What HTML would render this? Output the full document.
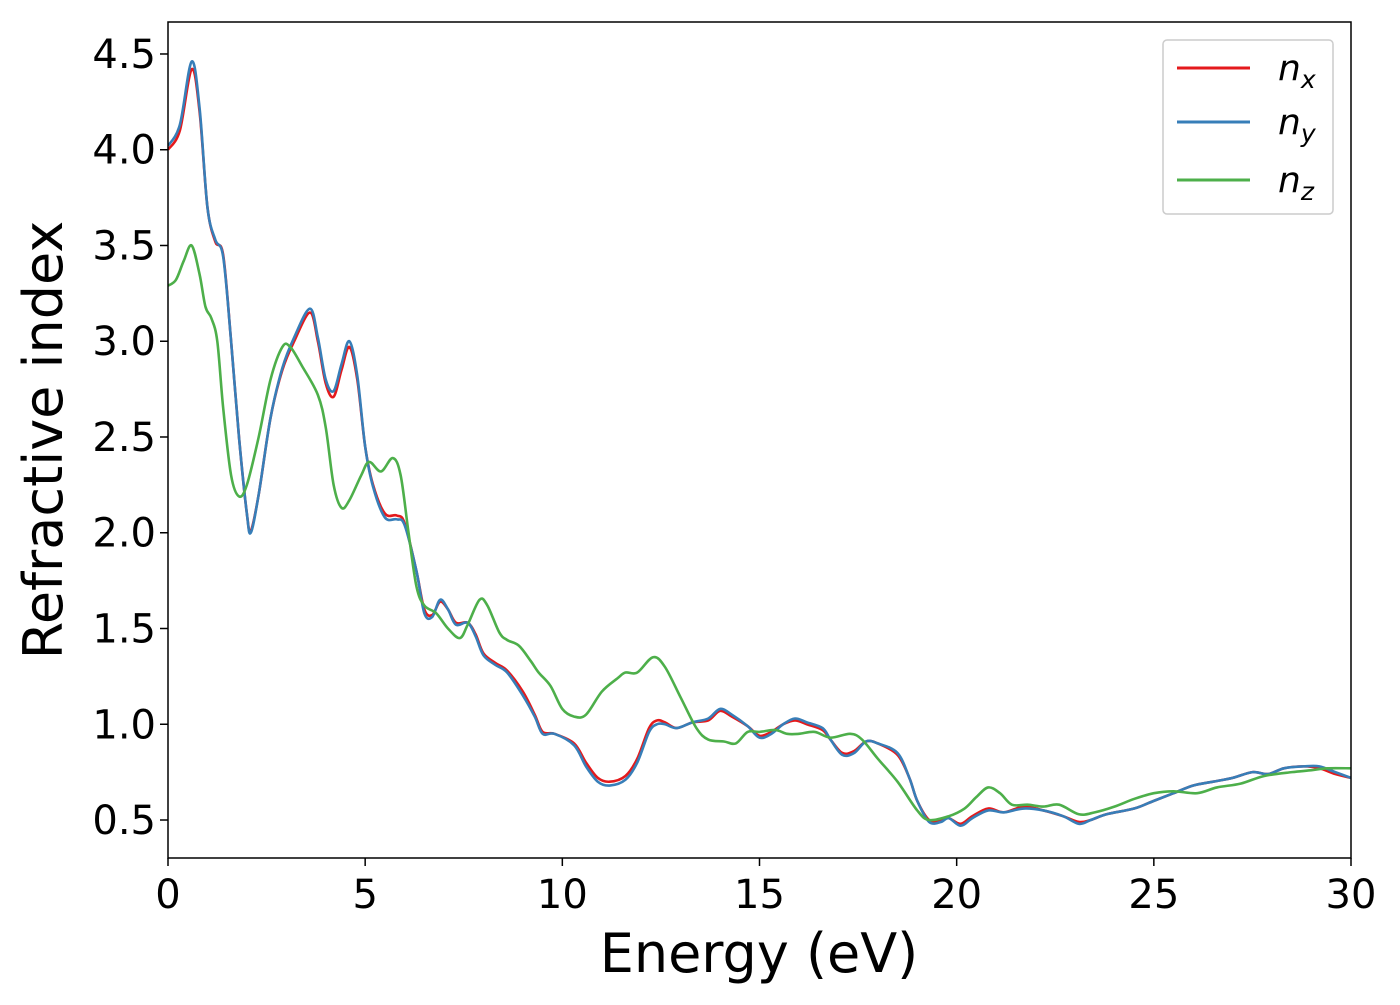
<!DOCTYPE html>
<html><head><meta charset="utf-8"><style>
body{margin:0;background:#fff}
svg{font-family:"DejaVu Sans","Liberation Sans",sans-serif}
</style></head><body>
<svg id="chart" width="1400" height="1000" viewBox="0 0 1400 1000" xmlns="http://www.w3.org/2000/svg">
<rect x="0" y="0" width="1400" height="1000" fill="#fff"/>
<g id="series"></g>
<rect x="168" y="22" width="1183" height="836" fill="none" stroke="#000" stroke-width="1.5"/>
<g id="xticks"></g>
<g id="yticks"></g>
<text x="759" y="972" font-size="54" text-anchor="middle">Energy (eV)</text>
<text transform="translate(62,440) rotate(-90)" font-size="54" text-anchor="middle">Refractive index</text>
<g>
<rect x="1163" y="40" width="170" height="174" rx="4" fill="#fff" fill-opacity="0.8" stroke="#ccc" stroke-width="1.5"/>
<line x1="1177" y1="68" x2="1250" y2="68" stroke="#e41a1c" stroke-width="3"/>
<line x1="1177" y1="122" x2="1250" y2="122" stroke="#377eb8" stroke-width="3"/>
<line x1="1177" y1="180" x2="1250" y2="180" stroke="#4daf4a" stroke-width="3"/>
<text x="1278" y="80" font-size="36" font-style="italic">n<tspan font-size="25" dy="8">x</tspan></text>
<text x="1278" y="134" font-size="36" font-style="italic">n<tspan font-size="25" dy="8">y</tspan></text>
<text x="1278" y="192" font-size="36" font-style="italic">n<tspan font-size="25" dy="8">z</tspan></text>
</g>
</svg>
<script>
const xTicks=[0,5,10,15,20,25,30];
const yTicks=[0.5,1.0,1.5,2.0,2.5,3.0,3.5,4.0,4.5];
const nxE=[0,0.3,0.6,0.8,1.0,1.2,1.4,1.6,1.8,2.0,2.1,2.3,2.6,2.9,3.2,3.6,3.8,4.0,4.2,4.4,4.6,4.8,5.0,5.2,5.5,5.8,6.0,6.3,6.5,6.7,6.9,7.1,7.3,7.6,7.8,8.0,8.3,8.6,9.0,9.3,9.5,9.8,10.3,10.6,10.9,11.2,11.6,11.9,12.2,12.4,12.6,12.9,13.3,13.7,14.0,14.3,14.7,15.0,15.3,15.6,15.9,16.2,16.6,16.8,17.1,17.4,17.7,18.0,18.5,18.8,19.0,19.3,19.6,19.8,20.1,20.4,20.8,21.2,21.7,22.2,22.7,23.1,23.4,23.8,24.5,25.0,25.5,26.0,26.5,27.0,27.5,27.9,28.3,28.8,29.2,29.6,30];
const nxV=[4.0,4.1,4.42,4.2,3.7,3.52,3.45,3.0,2.5,2.1,2.01,2.2,2.6,2.85,3.0,3.15,3.0,2.78,2.71,2.85,2.97,2.8,2.45,2.25,2.1,2.09,2.05,1.8,1.6,1.57,1.64,1.6,1.53,1.53,1.47,1.37,1.32,1.28,1.17,1.05,0.96,0.95,0.9,0.8,0.72,0.7,0.73,0.82,0.98,1.02,1.01,0.98,1.01,1.02,1.07,1.04,0.99,0.94,0.96,1.0,1.02,1.0,0.97,0.92,0.85,0.86,0.91,0.9,0.84,0.72,0.6,0.5,0.5,0.51,0.48,0.52,0.56,0.54,0.57,0.55,0.52,0.49,0.5,0.53,0.56,0.6,0.64,0.68,0.7,0.72,0.75,0.74,0.77,0.78,0.77,0.74,0.72];
const nyE=nxE;
const nyV=[4.02,4.13,4.46,4.22,3.7,3.53,3.44,3.0,2.5,2.1,2.0,2.2,2.6,2.86,3.02,3.17,3.02,2.8,2.74,2.88,3.0,2.82,2.45,2.24,2.08,2.07,2.04,1.8,1.58,1.56,1.65,1.6,1.52,1.53,1.46,1.36,1.31,1.27,1.15,1.04,0.95,0.95,0.89,0.78,0.7,0.68,0.71,0.8,0.96,1.0,1.0,0.98,1.01,1.03,1.08,1.05,0.99,0.93,0.95,1.0,1.03,1.01,0.98,0.92,0.84,0.85,0.91,0.9,0.85,0.72,0.6,0.49,0.49,0.51,0.47,0.51,0.55,0.54,0.56,0.55,0.52,0.48,0.5,0.53,0.56,0.6,0.64,0.68,0.7,0.72,0.75,0.74,0.77,0.78,0.78,0.75,0.72];
const nzE=[0,0.2,0.4,0.6,0.8,0.95,1.1,1.25,1.4,1.6,1.8,2.0,2.3,2.6,2.9,3.1,3.4,3.8,4.0,4.2,4.4,4.6,4.9,5.1,5.4,5.7,5.9,6.1,6.3,6.5,6.8,7.1,7.4,7.6,7.9,8.1,8.4,8.6,8.9,9.2,9.4,9.7,10.0,10.3,10.6,11.0,11.4,11.6,11.9,12.3,12.6,13.0,13.4,13.7,14.1,14.4,14.7,15.0,15.4,15.7,16.0,16.4,16.8,17.3,17.6,18.0,18.5,19.0,19.3,19.8,20.2,20.5,20.8,21.1,21.4,21.8,22.2,22.6,23.1,23.5,24.0,24.5,25.0,25.5,26.1,26.6,27.2,27.8,28.5,29.0,29.4,30];
const nzV=[3.29,3.32,3.42,3.5,3.35,3.18,3.12,3.0,2.65,2.3,2.19,2.25,2.5,2.8,2.97,2.97,2.87,2.72,2.55,2.25,2.13,2.17,2.3,2.37,2.32,2.39,2.3,2.0,1.72,1.62,1.58,1.5,1.45,1.52,1.65,1.62,1.48,1.44,1.41,1.33,1.27,1.2,1.08,1.04,1.05,1.17,1.24,1.27,1.27,1.35,1.3,1.14,0.98,0.92,0.91,0.9,0.96,0.96,0.97,0.95,0.95,0.96,0.93,0.95,0.92,0.82,0.7,0.55,0.5,0.52,0.56,0.62,0.67,0.64,0.58,0.58,0.57,0.58,0.53,0.54,0.57,0.61,0.64,0.65,0.64,0.67,0.69,0.73,0.75,0.76,0.77,0.77];
const X0=168,X1=1351,Y0=22,Y1=858,xmin=0,xmax=30,ymin=0.3016,ymax=4.667;
const sx=v=>X0+(v-xmin)/(xmax-xmin)*(X1-X0);
const sy=v=>Y1-(v-ymin)/(ymax-ymin)*(Y1-Y0);
const NS="http://www.w3.org/2000/svg";
function mk(t,a){const e=document.createElementNS(NS,t);for(const k in a)e.setAttribute(k,a[k]);return e;}
const xg=document.getElementById('xticks'),yg=document.getElementById('yticks');
xTicks.forEach(t=>{const x=sx(t);
 const l=mk('line',{x1:x,y1:Y1,x2:x,y2:Y1+8,stroke:'#000','stroke-width':1.5});
 
 
 xg.appendChild(l);
 const tx=mk('text',{x:x,y:Y1+50,'font-size':40,'text-anchor':'middle'});tx.textContent=t;
 
 
 xg.appendChild(tx);});
yTicks.forEach(t=>{const y=sy(t);
 const l=mk('line',{x1:X0-8,y1:y,x2:X0,y2:y,stroke:'#000','stroke-width':1.5});
 
 
 yg.appendChild(l);
 const tx=mk('text',{x:X0-12,y:y+14,'font-size':40,'text-anchor':'end'});tx.textContent=t.toFixed(1);
 
 
 yg.appendChild(tx);});
function pathFor(E,V){const p=E.map((e,i)=>[sx(e),sy(V[i])]);let d='M'+p[0][0]+','+p[0][1];
 for(let i=0;i<p.length-1;i++){const a=p[Math.max(0,i-1)],b=p[i],c=p[i+1],n=p[Math.min(p.length-1,i+2)];
  const c1=[b[0]+(c[0]-a[0])/6,b[1]+(c[1]-a[1])/6],c2=[c[0]-(n[0]-b[0])/6,c[1]-(n[1]-b[1])/6];
  d+=' C'+c1[0]+','+c1[1]+' '+c2[0]+','+c2[1]+' '+c[0]+','+c[1];}
 return d;}
const sg=document.getElementById('series');
const cp=mk('clipPath',{id:'cp'});cp.appendChild(mk('rect',{x:X0,y:Y0,width:X1-X0,height:Y1-Y0}));
document.getElementById('chart').prepend(cp);
[[nxE,nxV,'#e41a1c','series-nx'],[nyE,nyV,'#377eb8','series-ny'],[nzE,nzV,'#4daf4a','series-nz']].forEach(s=>{
 const p=mk('path',{d:pathFor(s[0],s[1]),fill:'none',stroke:s[2],'stroke-width':2.6,'clip-path':'url(#cp)'});
 
 
 sg.appendChild(p);});
</script>
</body></html>
